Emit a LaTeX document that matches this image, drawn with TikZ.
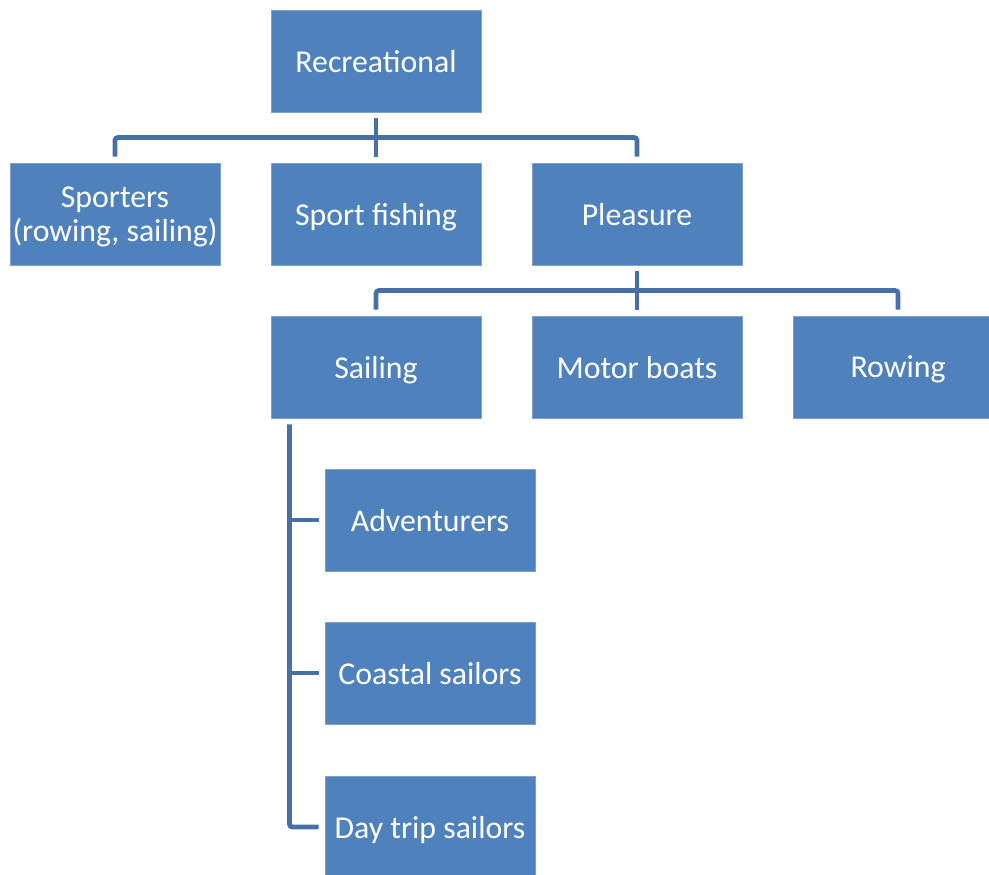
\documentclass[tikz,border=0pt]{standalone}
\usepackage{fontspec}
\setmainfont{Carlito}
\definecolor{boxfill}{HTML}{4F81BD}
\definecolor{boxedge}{HTML}{7FA0CF}
\definecolor{connc}{HTML}{4670A6}
\tikzset{
  box/.style={rectangle, fill=boxfill, draw=boxedge, line width=0.8pt,
    minimum width=210pt, minimum height=102pt, inner sep=0pt,
    text depth=0pt,
    text=white, align=center, font=\fontsize{31.8}{34.5}\selectfont},
  conn/.style={draw=connc, line width=4.8pt, rounded corners=3pt}
}
\begin{document}
\begin{tikzpicture}[x=1pt,y=-1pt]
\useasboundingbox (0,0) rectangle (989,875);
\clip (0,0) rectangle (989,875);
\node[box] (rec) at (376,61) {Recreational};
\node[box] (spo) at (115,214) {Sporters\\(rowing, sailing)};
\node[box] (fish) at (376,214) {Sport fishing};
\node[box] (plea) at (637,214) {Pleasure};
\node[box] (sail) at (376,367) {Sailing};
\node[box] (motor) at (637,367) {Motor boats};
\node[box] (row) at (898,367) {Rowing};
\node[box] (adv) at (430,520) {Adventurers};
\node[box] (coast) at (430,673) {Coastal sailors};
\node[box] (day) at (430,827) {Day trip sailors};
\coordinate (b1) at (0,137.5);
\coordinate (b2) at (0,290.5);
\coordinate (tk) at (289.5,0);
\draw[conn] ([yshift=6pt]spo.north) -- (spo.north |- b1) -- (plea.north |- b1) -- ([yshift=6pt]plea.north);
\draw[conn] ([yshift=-6pt]rec.south) -- ([yshift=6pt]fish.north);
\draw[conn] ([yshift=6pt]sail.north) -- (sail.north |- b2) -- (row.north |- b2) -- ([yshift=6pt]row.north);
\draw[conn] ([yshift=-6pt]plea.south) -- ([yshift=6pt]motor.north);
\coordinate (s0) at ([yshift=-6pt]sail.south);
\draw[conn] (tk |- s0) -- (tk |- day.west) -- ([xshift=-6pt]day.west);
\draw[conn] (tk |- adv.west) -- ([xshift=-6pt]adv.west);
\draw[conn] (tk |- coast.west) -- ([xshift=-6pt]coast.west);
\end{tikzpicture}
\end{document}
